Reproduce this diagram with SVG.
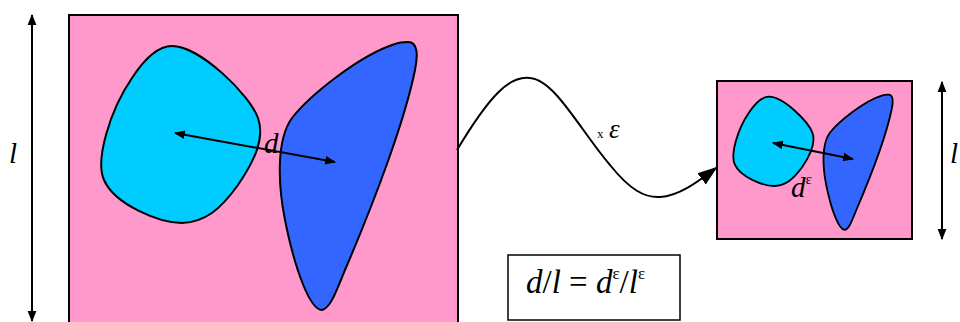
<svg xmlns="http://www.w3.org/2000/svg" width="960" height="322" viewBox="0 0 960 322">
<style>
.ln{stroke:#000;stroke-width:2;fill:none}
.blob{stroke:#000;stroke-width:2}
text{font-family:'Liberation Serif','Times New Roman',serif;fill:#000}
.it{font-style:italic}
</style>
<defs>
<marker id="ah" viewBox="0 0 10 10" refX="9" refY="5" markerWidth="5.5" markerHeight="5.5" orient="auto-start-reverse" markerUnits="strokeWidth"><path d="M0,1 L10,5 L0,9 Z" fill="#000"/></marker>
<marker id="ahb" viewBox="0 0 10 10" refX="9" refY="5" markerWidth="10" markerHeight="10" orient="auto" markerUnits="strokeWidth"><path d="M0,1.5 L10,5 L0,8.5 Z" fill="#000"/></marker>
<path id="cy" d="M172,46 C200,46 250,95 258,118 C265,138 255,160 238,185 C220,210 205,222 182,223 C160,223 115,205 104,180 C95,160 110,110 132,78 C145,58 158,46 172,46 Z"/>
<path id="bl" d="M408,42 C418,42 418,55 415,70 C405,120 375,200 345,270 C335,295 330,308 322,310 C310,310 295,270 285,220 C278,185 276,140 292,118 C310,95 360,55 395,44 C400,42 404,42 408,42 Z"/>
</defs>
<g id="big-frame">
<rect x="69" y="15" width="389" height="320" fill="#ff99cc" stroke="#000" stroke-width="2"/>
<use href="#cy" fill="#00ccff" class="blob"/>
<use href="#bl" fill="#3366ff" class="blob"/>
</g>
<g id="small-frame">
<rect x="717" y="81" width="195" height="158" fill="#ff99cc" stroke="#000" stroke-width="2"/>
<g transform="translate(682.2,73.4) scale(0.505)">
<use href="#cy" fill="#00ccff" stroke="#000" stroke-width="3.6"/>
<use href="#bl" fill="#3366ff" stroke="#000" stroke-width="3.6"/>
</g>
</g>
<g id="connectors">
<line class="ln" x1="32" y1="15" x2="32" y2="321" marker-start="url(#ah)" marker-end="url(#ah)"/>
<line class="ln" x1="175" y1="133" x2="335" y2="162" marker-start="url(#ah)" marker-end="url(#ah)"/>
<path class="ln" d="M457,150 C490,95 510,75 530,78 C555,80 580,130 610,165 C630,190 645,198 660,197 C680,196 700,180 716,168" marker-end="url(#ahb)"/>
<line class="ln" x1="773" y1="143" x2="853" y2="159" marker-start="url(#ah)" marker-end="url(#ah)"/>
<line class="ln" x1="942" y1="82" x2="942" y2="239" marker-start="url(#ah)" marker-end="url(#ah)"/>
</g>
<g id="labels">
<text class="it" x="9" y="163" font-size="29">l</text>
<text class="it" x="264" y="153" font-size="29">d</text>
<text x="597" y="138" font-size="13">x</text>
<text class="it" x="609" y="138" font-size="27">ε</text>
<text class="it" x="791" y="197" font-size="29">d<tspan font-size="15" dy="-13" font-style="normal">ε</tspan></text>
<text class="it" x="950" y="163" font-size="29">l</text>
</g>
<g id="formula">
<rect x="508" y="255" width="172" height="65" fill="#fff" stroke="#000" stroke-width="1.5"/>
<text x="526" y="293" font-size="33"><tspan font-style="italic">d</tspan>/<tspan font-style="italic">l</tspan> = <tspan font-style="italic">d</tspan><tspan font-size="17" dy="-14">ε</tspan><tspan dy="14">/</tspan><tspan font-style="italic">l</tspan><tspan font-size="17" dy="-14">ε</tspan></text>
</g>
</svg>
